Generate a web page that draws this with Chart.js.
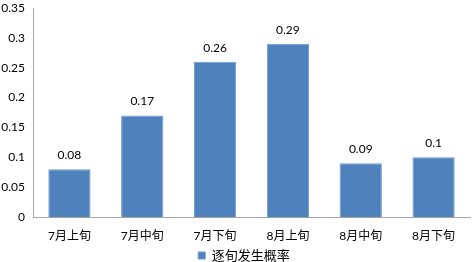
<!DOCTYPE html>
<html lang="zh">
<head>
    <meta charset="UTF-8">
    <title>逐旬发生概率</title>
    <script src="https://cdn.jsdelivr.net/npm/chart.js"></script>
    <style>
        html, body { margin: 0; padding: 0; background: #fff; }
        #wrap { width: 472px; height: 262px; }
    </style>
</head>
<body>
    <div id="wrap"><canvas id="myChart" width="472" height="262"></canvas></div>
    <script>
        'use strict';
        var categories = ['7月上旬', '7月中旬', '7月下旬', '8月上旬', '8月中旬', '8月下旬'];
        var probability = [0.08, 0.17, 0.26, 0.29, 0.09, 0.1];
        var seriesName = '逐旬发生概率';
        var yMax = 0.35;
        var yStep = 0.05;

        var fontFamily = "Lato, 'Noto Sans CJK SC', sans-serif";

        // value labels above each bar
        var barLabels = {
            id: 'barLabels',
            afterDatasetsDraw: function(chart) {
                var ctx = chart.ctx;
                var meta = chart.getDatasetMeta(0);
                ctx.save();
                ctx.fillStyle = '#000';
                ctx.font = '12px ' + fontFamily;
                ctx.textAlign = 'center';
                ctx.textBaseline = 'middle';
                meta.data.forEach(function(bar, i) {
                    ctx.fillText(String(probability[i]), bar.x, bar.y - 14);
                });
                ctx.restore();
            }
        };

        // nudge the legend a bit right, like the original
        var legendShift = {
            id: 'legendShift',
            afterLayout: function(chart) {
                chart.legend.left += 9;
                chart.legend.right += 9;
            }
        };

        var ctx = document.getElementById('myChart').getContext('2d');
        var myChart = new Chart(ctx, {
            type: 'bar',
            data: {
                labels: categories,
                datasets: [{
                    label: seriesName,
                    data: probability,
                    backgroundColor: '#4F81BD',
                    borderColor: '#6E9AD3',
                    borderWidth: 1,
                    categoryPercentage: 1,
                    barPercentage: 0.58
                }]
            },
            options: {
                responsive: false,
                animation: false,
                layout: { padding: { top: 8, right: 2, left: 0, bottom: -10 } },
                scales: {
                    x: {
                        grid: { display: false, drawTicks: false },
                        border: { display: true, color: '#A6A6A6', width: 1 },
                        ticks: { color: '#000', font: { family: fontFamily, size: 12 }, padding: 12, maxRotation: 0 },
                        afterFit: function(scale) { scale.height = 30; }
                    },
                    y: {
                        min: 0,
                        max: yMax,
                        grid: { display: false, drawTicks: false },
                        border: { display: true, color: '#A6A6A6', width: 1 },
                        ticks: {
                            stepSize: yStep,
                            color: '#000',
                            font: { family: fontFamily, size: 12 },
                            padding: 8,
                            callback: function(v) { return String(+v.toFixed(2)); }
                        },
                        afterFit: function(scale) {
                            scale.width = 33;
                            scale.paddingTop = 0;
                        }
                    }
                },
                plugins: {
                    legend: {
                        display: true,
                        position: 'bottom',
                        labels: {
                            color: '#000',
                            font: { family: fontFamily, size: 13 },
                            boxWidth: 7,
                            boxHeight: 7,
                            padding: 2
                        }
                    },
                    tooltip: { enabled: false }
                }
            },
            plugins: [barLabels, legendShift]
        });
    </script>
</body>
</html>
